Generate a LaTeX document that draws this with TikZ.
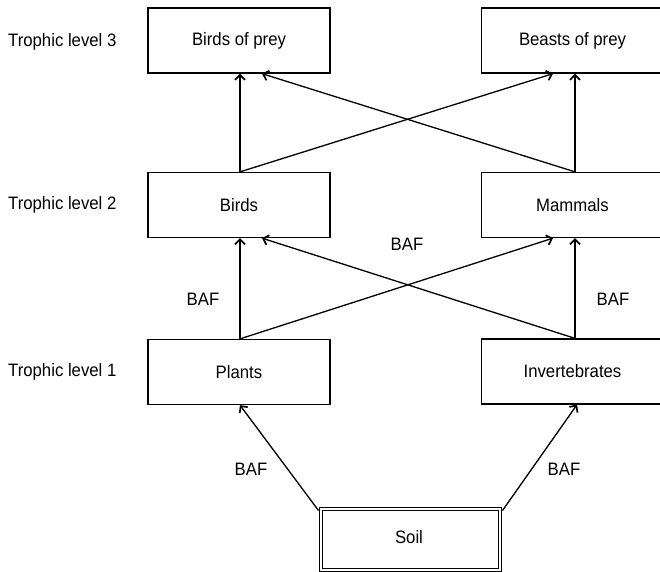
\documentclass[tikz,border=0pt]{standalone}
\usepackage{fontspec}
\setmainfont{Liberation Sans}[FakeStretch=0.93]
\usetikzlibrary{arrows.meta}
\begin{document}
\begin{tikzpicture}[x=1pt,y=-1pt,
  txt/.style={font=\fontsize{18}{20}\selectfont},
  box/.style={draw, txt, line width=1.3pt, minimum width=182pt, minimum height=65pt, inner sep=0pt},
  soilbox/.style={draw, txt, double=white, double distance=2pt, line width=1pt, minimum width=179pt, minimum height=61pt, inner sep=0pt},
  lvl/.style={txt, anchor=west, inner sep=0pt},
  lbl/.style={txt, inner sep=0pt},
  link/.style={line width=1.3pt, -{Straight Barb[length=5pt,width=10pt,line width=1.7pt]}}]
\useasboundingbox (0,0) rectangle (660,571);
% boxes
\node[box] (bop) at (239,40.5) {Birds of prey};
\node[box] (beasts) at (572.5,40.5) {Beasts of prey};
\node[box] (birds) at (239,205) {Birds};
\node[box] (mammals) at (572.5,205) {Mammals};
\node[box] (plants) at (239,372) {Plants};
\node[box] (inv) at (572.5,371.5) {Invertebrates};
\node[soilbox] (soil) at (410.5,539.5) {};
\node[lbl] (soiltext) at (409,537) {Soil};
% level labels
\node[lvl] (t3) at (8,42) {Trophic level 3};
\node[lvl] (t2) at (8,205) {Trophic level 2};
\node[lvl] (t1) at (8,372) {Trophic level 1};
% anchor points on the box edges
\coordinate (bopA) at ([xshift=1pt]bop.south);
\coordinate (bopB) at ([xshift=23pt]bop.south);
\coordinate (beastsA) at ([xshift=-19.5pt]beasts.south);
\coordinate (beastsB) at ([xshift=2.5pt]beasts.south);
\coordinate (birdsT) at ([xshift=1pt]birds.north);
\coordinate (mamT) at ([xshift=2.5pt]mammals.north);
\coordinate (birdsA) at ([xshift=1pt]birds.south);
\coordinate (birdsB) at ([xshift=23pt]birds.south);
\coordinate (mamA) at ([xshift=-19.5pt]mammals.south);
\coordinate (mamB) at ([xshift=2.5pt]mammals.south);
\coordinate (plantsT) at ([xshift=1pt]plants.north);
\coordinate (invT) at ([xshift=2.5pt]inv.north);
\coordinate (plantsB) at ([xshift=1pt]plants.south);
\coordinate (invB) at ([xshift=4.5pt]inv.south);
\coordinate (soilL) at ([shift={(-2pt,-2pt)}]soil.north west);
\coordinate (soilR) at ([shift={(2pt,-2pt)}]soil.north east);
% level 2 to level 3
\draw[link] (birdsT) -- (bopA);
\draw[link] (birdsT) -- (beastsA);
\draw[link] (mamT) -- (bopB);
\draw[link] (mamT) -- (beastsB);
% level 1 to level 2
\draw[link] (plantsT) -- (birdsA);
\draw[link] (plantsT) -- (mamA);
\draw[link] (invT) -- (birdsB);
\draw[link] (invT) -- (mamB);
% soil to level 1
\draw[link] (soilL) -- (plantsB);
\draw[link] (soilR) -- (invB);
% transfer factor labels
\node[lbl] (baf1) at (203,299) {BAF};
\node[lbl] (baf2) at (613,299) {BAF};
\node[lbl] (baf3) at (407,244) {BAF};
\node[lbl] (baf4) at (251,469) {BAF};
\node[lbl] (baf5) at (564,469) {BAF};
\end{tikzpicture}
\end{document}
